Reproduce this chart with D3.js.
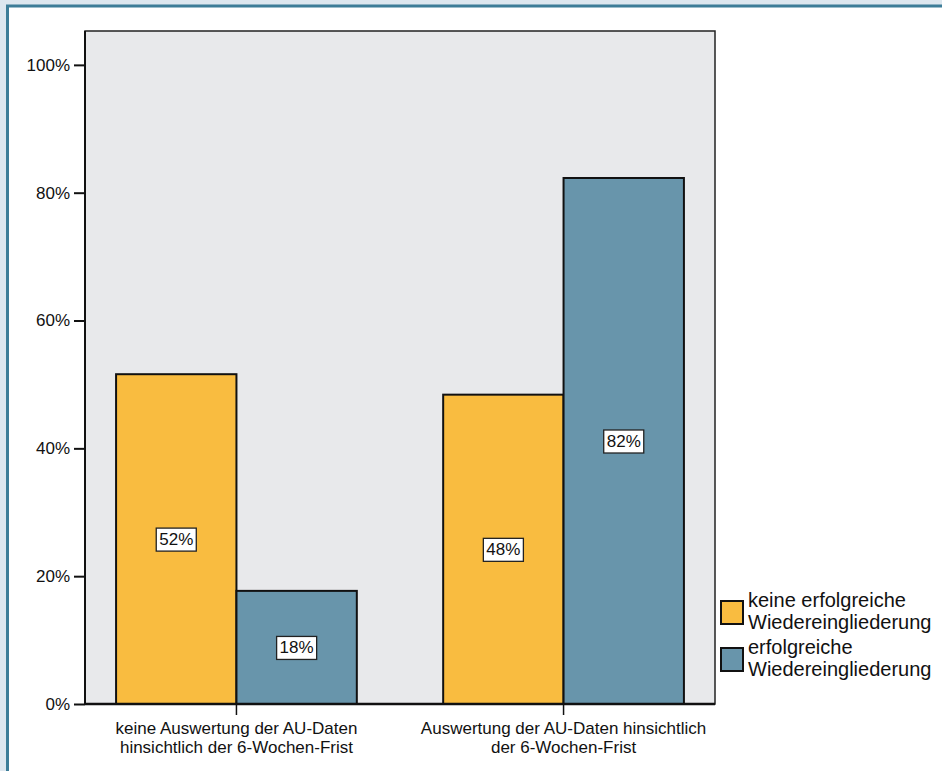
<!DOCTYPE html>
<html><head><meta charset="utf-8">
<script src="https://cdn.jsdelivr.net/npm/d3@7"></script>
<style>body{margin:0;background:#dde7ef;}svg{display:block;font-family:"Liberation Sans",Arial,sans-serif;}</style>
</head><body>
<svg id="c" width="942" height="771"></svg>
<script>
const categories = [["keine Auswertung der AU-Daten","hinsichtlich der 6-Wochen-Frist"],["Auswertung der AU-Daten hinsichtlich","der 6-Wochen-Frist"]];
const seriesNames = [["keine erfolgreiche","Wiedereingliederung"],["erfolgreiche","Wiedereingliederung"]];
const seriesColors = ["#f9bc40","#6895ab"];
const keineValues = [51.6, 48.4];
const erfolgValues = [17.7, 82.3];
const valueLabels = [["52%","48%"],["18%","82%"]];
const yTicks = [0,20,40,60,80,100];

const svg = d3.select("#c");
svg.append("rect").attr("x",0).attr("y",0).attr("width",942).attr("height",771).attr("fill","#dde7ef");
svg.append("rect").attr("x",7.5).attr("y",6).attr("width",940).attr("height",770).attr("fill","#fff").attr("stroke","#3d7d98").attr("stroke-width",3);

const L=85,R=715,T=31,B=704;
svg.append("rect").attr("x",L).attr("y",T).attr("width",R-L).attr("height",B-T).attr("fill","#e8e9eb").attr("stroke","#222").attr("stroke-width",1.5);

const y = d3.scaleLinear().domain([0,105.3]).range([B,T]);
const x0 = d3.scaleBand().domain([0,1]).range([L,R]).paddingInner(0.264).paddingOuter(0.095);
const x1 = d3.scaleBand().domain([0,1]).range([0,x0.bandwidth()]);

const series=[keineValues,erfolgValues];
series.forEach((vals,s)=>{
  vals.forEach((v,i)=>{
    const bx = x0(i)+x1(s);
    svg.append("rect").attr("x",bx).attr("y",y(v)).attr("width",x1.bandwidth()).attr("height",B-y(v))
      .attr("fill",seriesColors[s]).attr("stroke","#111").attr("stroke-width",2);
  });
});
series.forEach((vals,s)=>{
  vals.forEach((v,i)=>{
    const cx = x0(i)+x1(s)+x1.bandwidth()/2;
    const cy = (y(v)+B)/2;
    const g = svg.append("g");
    const t = g.append("text").attr("x",cx).attr("y",cy+6).attr("text-anchor","middle").attr("font-size",17).attr("fill","#111").text(valueLabels[s][i]);
    const bb = t.node().getBBox();
    g.insert("rect","text").attr("x",bb.x-3).attr("y",bb.y-2).attr("width",bb.width+6).attr("height",bb.height+4)
      .attr("fill","#fff").attr("stroke","#222").attr("stroke-width",1.3);
  });
});

// y axis
const ya = svg.append("g").attr("transform",`translate(${L},0)`).call(d3.axisLeft(y).tickValues(yTicks).tickFormat(d=>d+"%").tickSize(11).tickPadding(4));
ya.select(".domain").remove();
ya.selectAll("line").attr("stroke","#111").attr("stroke-width",2);
ya.selectAll("text").attr("font-size",17).attr("fill","#111").attr("font-family","Liberation Sans, Arial, sans-serif");
svg.append("line").attr("x1",L).attr("x2",L).attr("y1",T).attr("y2",B).attr("stroke","#111").attr("stroke-width",2);
svg.append("line").attr("x1",L).attr("x2",R).attr("y1",B).attr("y2",B).attr("stroke","#111").attr("stroke-width",2.5);

// x axis category ticks & labels
categories.forEach((c,i)=>{
  const cx = x0(i)+x0.bandwidth()/2;
  svg.append("line").attr("x1",cx).attr("x2",cx).attr("y1",B).attr("y2",B+11).attr("stroke","#111").attr("stroke-width",1.5);
  c.forEach((line,k)=>{
    svg.append("text").attr("x",cx).attr("y",734+k*19).attr("text-anchor","middle").attr("font-size",17).attr("fill","#111").text(line);
  });
});

// legend
seriesNames.forEach((n,s)=>{
  const ly = 601 + s*47;
  svg.append("rect").attr("x",721).attr("y",ly).attr("width",22).attr("height",23).attr("fill",seriesColors[s]).attr("stroke","#111").attr("stroke-width",2);
  n.forEach((line,k)=>{
    svg.append("text").attr("x",748).attr("y",ly+6+k*22).attr("font-size",20).attr("fill","#111").text(line);
  });
});
</script>
</body></html>
